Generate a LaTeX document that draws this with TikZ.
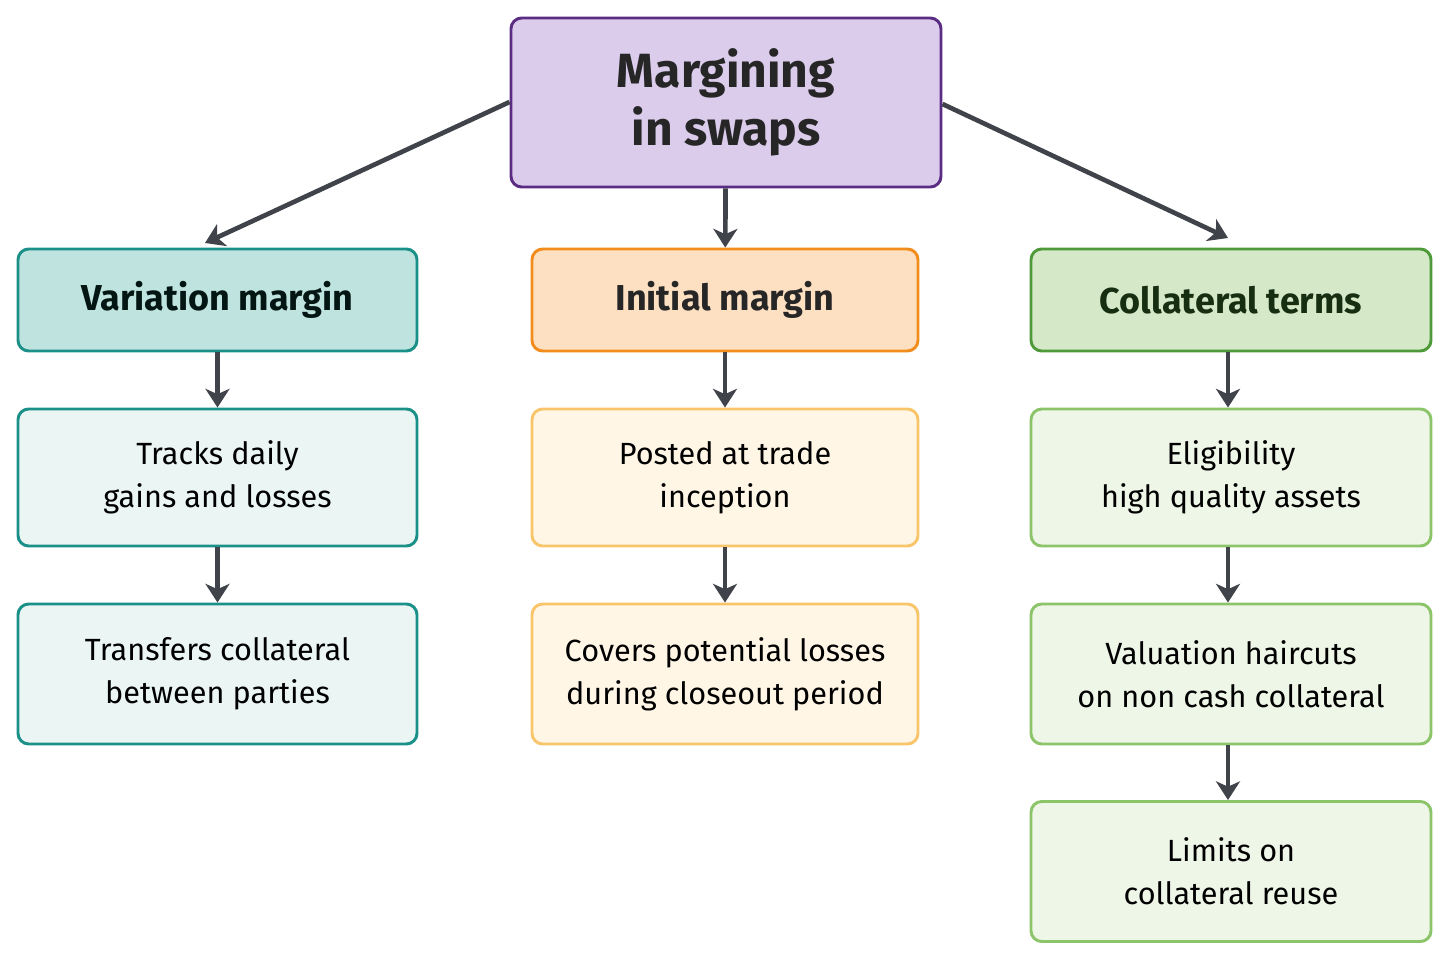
\documentclass[tikz,border=0pt]{standalone}
\usepackage{fontspec}
\setmainfont{Fira Sans}
\usetikzlibrary{arrows.meta}
\definecolor{arr}{HTML}{40444A}
\definecolor{pf}{HTML}{DCCCEC}\definecolor{pd}{HTML}{5B2C83}
\definecolor{tf}{HTML}{BFE3DE}\definecolor{td}{HTML}{1A9088}\definecolor{tl}{HTML}{EAF5F4}
\definecolor{of}{HTML}{FDE0C2}\definecolor{od}{HTML}{F28C1C}\definecolor{ol}{HTML}{FFF6E6}\definecolor{ob}{HTML}{F8C56A}
\definecolor{gf}{HTML}{D5E8C8}\definecolor{gd}{HTML}{4E9A3A}\definecolor{gl}{HTML}{EEF6E8}\definecolor{gb}{HTML}{8CC46A}
\begin{document}
\begin{tikzpicture}[x=0.75pt,y=-0.75pt,
 box/.style={draw,rounded corners=8pt,line width=2.2pt,align=center,inner sep=0pt},
 hd/.style={box,font=\fontsize{27}{32}\selectfont\bfseries},
 bd/.style={box,font=\fontsize{23}{32}\selectfont},
 ar/.style={draw=arr,line width=3.5pt,-{Stealth[length=14pt,width=18pt,inset=4pt]}}]
\useasboundingbox (0,0) rectangle (1450,960);
\node[box,fill=pf,draw=pd,minimum width=322.5pt,minimum height=126.75pt,font=\fontsize{36}{43}\selectfont\bfseries,text=black!85] (top) at (726,102.5) {Margining\\in swaps};
\node[hd,fill=tf,draw=td,minimum width=299.25pt,minimum height=76.5pt,text=black!85!td] (vm) at (217.5,300) {Variation margin};
\node[hd,fill=of,draw=od,minimum width=289.5pt,minimum height=76.5pt,text=black!85] (im) at (725,300) {Initial margin};
\node[hd,fill=gf,draw=gd,minimum width=300pt,minimum height=76.5pt,text=black!70!gd] (ct) at (1231,300) {Collateral terms};
\tikzset{l2/.style={bd,minimum height=102.75pt},l3/.style={bd,minimum height=105pt}}
\node[l2,fill=tl,draw=td,minimum width=299.25pt] (v1) at (217.5,477.5) {Tracks daily\\gains and losses};
\node[l3,fill=tl,draw=td,minimum width=299.25pt] (v2) at (217.5,674) {Transfers collateral\\between parties};
\node[l2,fill=ol,draw=ob,minimum width=289.5pt] (i1) at (725,477.5) {Posted at trade\\inception};
\node[l3,fill=ol,draw=ob,minimum width=289.5pt] (i2) at (725,674) {Covers potential losses\\during closeout period};
\node[l2,fill=gl,draw=gb,minimum width=300pt] (c1) at (1231,477.5) {Eligibility\\high quality assets};
\node[l3,fill=gl,draw=gb,minimum width=300pt] (c2) at (1231,674) {Valuation haircuts\\on non cash collateral};
\node[l3,fill=gl,draw=gb,minimum width=300pt] (c3) at (1231,871.5) {Limits on\\collateral reuse};
\coordinate (bend) at (270,213);
\coordinate (vt) at (205,243);
\coordinate (ct0) at (1228,238);
\draw[ar] (top.west|-0,102) -- (bend) -- (vt);
\draw[ar] (top.east|-0,104) -- (ct0);
\draw[ar] (top) -- (im);
\draw[ar] (vm) -- (v1); \draw[ar] (v1) -- (v2);
\draw[ar] (im) -- (i1); \draw[ar] (i1) -- (i2);
\draw[ar] (ct.south-|1228,0) -- (c1.north-|1228,0); \draw[ar] (c1.south-|1228,0) -- (c2.north-|1228,0); \draw[ar] (c2.south-|1228,0) -- (c3.north-|1228,0);
\end{tikzpicture}
\end{document}
